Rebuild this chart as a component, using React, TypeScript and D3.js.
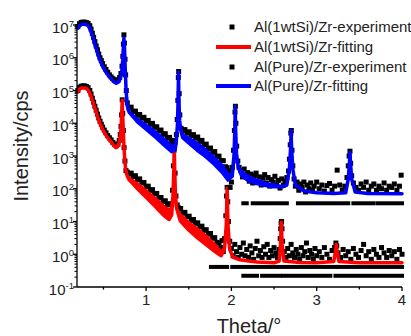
import React, { useEffect, useRef } from "react";
import * as d3 from "d3";

// fitted curves: [theta, lower envelope, upper envelope] (band where fringes blur)
const fitSi: [number, number, number][] = [
  [0.2, 9e4, 9e4], [0.22, 1.1e5, 1.1e5], [0.25, 1.2e5, 1.2e5], [0.28, 1.2e5, 1.2e5],
  [0.31, 1.1e5, 1.1e5], [0.33, 9.5e4, 9.5e4], [0.35, 7.2e4, 7.2e4], [0.37, 5e4, 5e4],
  [0.39, 3.4e4, 3.4e4], [0.41, 2.4e4, 2.4e4], [0.43, 1.6e4, 1.6e4], [0.45, 1.15e4, 1.15e4],
  [0.47, 8.5e3, 8.5e3], [0.5, 5.8e3, 5.8e3], [0.53, 4.3e3, 4.3e3], [0.56, 3.3e3, 3.3e3],
  [0.59, 2.7e3, 2.7e3], [0.62, 2.1e3, 2.1e3], [0.645, 1.8e3, 1.8e3], [0.665, 1.9e3, 1.9e3],
  [0.685, 2.6e3, 2.6e3], [0.7, 4.5e3, 4.5e3], [0.71, 1.1e4, 1.1e4], [0.72, 5e4, 5e4],
  [0.728, 1.2e4, 1.2e4], [0.737, 3e3, 3e3], [0.748, 9e2, 9e2], [0.76, 4e2, 4e2],
  [0.78, 2.4e2, 2.4e2], [0.8, 1.9e2, 2.1e2], [0.9, 1e2, 1.4e2], [1.0, 5.5e1, 8.5e1],
  [1.1, 3e1, 5.2e1], [1.2, 1.6e1, 3e1], [1.27, 1.15e1, 2.2e1], [1.3, 1.6e1, 2.5e1],
  [1.315, 6e1, 6e1], [1.325, 4e2, 4e2], [1.33, 2.5e3, 2.5e3], [1.335, 4e2, 4e2],
  [1.345, 6e1, 6e1], [1.36, 2.4e1, 2.4e1], [1.4, 1.05e1, 1.6e1], [1.5, 5.5, 9.2],
  [1.6, 3.2, 5.8], [1.7, 2, 3.6], [1.8, 1.25, 2], [1.88, 0.9, 1.15], [1.92, 1.5, 1.5],
  [1.94, 8, 8], [1.95, 1.05e2, 1.05e2], [1.96, 8, 8], [1.98, 1.4, 1.4], [2.02, 0.8, 0.8],
  [2.1, 0.68, 0.68], [2.2, 0.62, 0.62], [2.3, 0.58, 0.58], [2.5, 0.55, 0.55],
  [2.56, 0.62, 0.62], [2.575, 2, 2], [2.585, 9.5, 9.5], [2.595, 2, 2], [2.615, 0.62, 0.62],
  [2.8, 0.56, 0.56], [3.0, 0.55, 0.55], [3.2, 0.6, 0.6], [3.22, 1.2, 1.2],
  [3.23, 2, 2], [3.24, 1.2, 1.2], [3.26, 0.6, 0.6], [3.5, 0.55, 0.55], [4.0, 0.55, 0.55],
];

const fitPure: [number, number, number][] = [
  [0.2, 8e6, 8e6], [0.22, 9.5e6, 9.5e6], [0.25, 1.05e7, 1.05e7], [0.28, 1.05e7, 1.05e7],
  [0.31, 1e7, 1e7], [0.33, 9e6, 9e6], [0.35, 6.8e6, 6.8e6], [0.37, 4.6e6, 4.6e6],
  [0.39, 3.1e6, 3.1e6], [0.41, 2.1e6, 2.1e6], [0.43, 1.4e6, 1.4e6], [0.45, 9.8e5, 9.8e5],
  [0.47, 7.2e5, 7.2e5], [0.5, 4.9e5, 4.9e5], [0.53, 3.6e5, 3.6e5], [0.56, 2.8e5, 2.8e5],
  [0.59, 2.3e5, 2.3e5], [0.62, 1.85e5, 1.85e5], [0.65, 1.65e5, 1.65e5], [0.68, 1.85e5, 1.85e5],
  [0.7, 2.4e5, 2.4e5], [0.715, 3.8e5, 3.8e5], [0.725, 8e5, 8e5], [0.733, 2e6, 2e6],
  [0.74, 4e6, 4e6], [0.747, 2e6, 2e6], [0.755, 5e5, 5e5], [0.765, 1.1e5, 1.1e5],
  [0.78, 3.3e4, 3.3e4], [0.8, 2.2e4, 2.2e4], [0.9, 1.1e4, 1.3e4], [1.0, 6.6e3, 8.6e3],
  [1.1, 4e3, 5.6e3], [1.2, 2.3e3, 3.4e3], [1.3, 1.35e3, 2e3], [1.34, 1.5e3, 1.9e3],
  [1.355, 3e3, 3e3], [1.368, 1e4, 1e4], [1.375, 5e4, 5e4], [1.38, 3.6e5, 3.6e5],
  [1.385, 5e4, 5e4], [1.393, 1.2e4, 1.2e4], [1.41, 5.5e3, 5.5e3], [1.43, 3.6e3, 4.4e3],
  [1.5, 2.5e3, 3.5e3], [1.6, 1.5e3, 2.4e3], [1.7, 9.5e2, 1.5e3], [1.8, 5.6e2, 8.8e2],
  [1.9, 3e2, 4.8e2], [1.96, 1.85e2, 2.6e2], [2.01, 2.4e2, 2.8e2], [2.03, 1e3, 1e3],
  [2.04, 6e3, 6e3], [2.045, 3.2e4, 3.2e4], [2.05, 6e3, 6e3], [2.06, 1.2e3, 1.2e3],
  [2.08, 4.5e2, 4.5e2], [2.12, 2.5e2, 3.3e2], [2.2, 1.75e2, 2.3e2], [2.3, 1.45e2, 1.8e2],
  [2.4, 1.25e2, 1.45e2], [2.5, 1.15e2, 1.3e2], [2.6, 1.15e2, 1.15e2], [2.65, 1.3e2, 1.3e2],
  [2.68, 4e2, 4e2], [2.695, 2e3, 2e3], [2.7, 6e3, 6e3], [2.705, 2e3, 2e3],
  [2.72, 4e2, 4e2], [2.75, 1.3e2, 1.3e2], [2.85, 8.5e1, 8.5e1], [3.0, 7.5e1, 7.5e1],
  [3.2, 7.2e1, 7.2e1], [3.34, 7.5e1, 7.5e1], [3.37, 2e2, 2e2], [3.385, 7e2, 7e2],
  [3.39, 1.3e3, 1.3e3], [3.395, 7e2, 7e2], [3.41, 2e2, 2e2], [3.45, 8e1, 8e1],
  [3.6, 7.2e1, 7.2e1], [4.0, 7e1, 7e1],
];

// measured points: [theta, cps]
const expSi: [number, number][] = [
  [0.2, 1e5], [0.22, 1.25e5], [0.24, 1.35e5], [0.26, 1.38e5], [0.28, 1.38e5], [0.3, 1.32e5],
  [0.32, 1.22e5], [0.34, 1e5], [0.355, 7.8e4], [0.37, 5.8e4], [0.385, 4.4e4], [0.4, 3.3e4],
  [0.415, 2.5e4], [0.43, 1.9e4], [0.445, 1.45e4], [0.46, 1.15e4], [0.475, 9.3e3], [0.49, 7.6e3],
  [0.51, 6.2e3], [0.53, 5.1e3], [0.55, 4.2e3], [0.57, 3.6e3], [0.59, 3.1e3], [0.61, 2.6e3],
  [0.63, 2.3e3], [0.65, 2.1e3], [0.67, 2.3e3], [0.685, 3e3], [0.697, 4.5e3], [0.706, 8e3],
  [0.713, 1.8e4], [0.72, 5.2e4], [0.726, 2e4], [0.733, 6e3], [0.742, 1.8e3], [0.752, 7e2],
  [0.764, 3.6e2], [0.78, 3.2e2], [0.8, 2.8e2], [0.825, 3e2], [0.85, 2.35e2], [0.875, 2.5e2],
  [0.9, 1.9e2], [0.925, 2e2], [0.95, 1.5e2], [0.975, 1.55e2], [1.0, 1.15e2], [1.025, 1.2e2],
  [1.05, 8.9e1], [1.075, 9.4e1], [1.1, 7e1], [1.125, 7.2e1], [1.15, 5.3e1], [1.175, 5.4e1],
  [1.2, 4.1e1], [1.225, 4.3e1], [1.25, 3.2e1], [1.275, 3.5e1], [1.3, 3.4e1], [1.31, 9e1],
  [1.32, 5e2], [1.327, 1.5e3], [1.333, 2.5e3], [1.34, 3e2], [1.35, 6e1], [1.365, 3.2e1],
  [1.38, 2.6e1], [1.405, 2.5e1], [1.43, 1.8e1], [1.455, 1.9e1], [1.48, 1.4e1], [1.505, 1.45e1],
  [1.53, 1.08e1], [1.555, 1.15e1], [1.58, 8.8], [1.605, 9.1], [1.63, 6.8], [1.655, 7.2],
  [1.68, 5.4], [1.705, 5.6], [1.73, 4.1], [1.755, 4.3], [1.78, 3.1], [1.805, 3.2],
  [1.83, 2.3], [1.855, 2.2], [1.875, 1.6], [1.89, 2.6], [1.905, 1.2], [1.92, 3],
  [1.935, 15], [1.943, 60], [1.95, 110], [1.957, 40], [1.965, 10], [1.98, 2.5],
  [2.0, 1.5], [2.02, 0.9], [2.04, 2], [2.06, 1.2], [2.08, 0.8], [2.1, 1.6], [2.12, 1],
  [2.14, 2.2], [2.16, 0.9], [2.18, 1.4], [2.2, 0.8], [2.22, 1.8], [2.24, 1.1], [2.26, 0.7],
  [2.28, 1.5], [2.3, 2.5], [2.32, 0.9], [2.34, 1.3], [2.36, 0.8], [2.38, 1.7], [2.4, 1],
  [2.42, 2], [2.44, 0.8], [2.46, 1.3], [2.48, 0.9], [2.5, 1.6], [2.52, 1.1], [2.54, 0.8],
  [2.56, 1.4], [2.572, 3], [2.578, 6], [2.583, 9], [2.588, 10], [2.593, 6], [2.6, 2.5],
  [2.62, 1.2], [2.64, 0.8], [2.66, 1.5], [2.68, 0.9], [2.7, 2], [2.72, 1.1], [2.74, 0.8],
  [2.76, 1.4], [2.78, 1], [2.8, 0.7], [2.82, 1.6], [2.84, 0.9], [2.86, 1.2], [2.88, 2.2],
  [2.9, 0.8], [2.92, 1.3], [2.94, 1], [2.96, 0.7], [2.98, 1.5], [3.0, 0.9], [3.03, 1.2],
  [3.06, 0.8], [3.09, 1.6], [3.12, 1], [3.15, 0.7], [3.18, 1.3], [3.21, 1.6], [3.225, 2.2],
  [3.235, 1.8], [3.25, 1.1], [3.28, 0.8], [3.31, 1.4], [3.34, 0.9], [3.37, 1.2], [3.4, 0.7],
  [3.43, 1.5], [3.46, 1], [3.49, 0.8], [3.52, 1.3], [3.55, 2], [3.58, 0.9], [3.61, 1.2],
  [3.64, 0.7], [3.67, 1.4], [3.7, 1], [3.73, 0.8], [3.76, 1.6], [3.79, 1.1], [3.82, 0.8],
  [3.85, 1.3], [3.88, 0.9], [3.91, 1.2], [3.94, 0.7], [3.97, 1.4], [4.0, 1],
];

const expPure: [number, number][] = [
  [0.2, 9e6], [0.22, 1.1e7], [0.24, 1.2e7], [0.26, 1.22e7], [0.28, 1.22e7], [0.3, 1.18e7],
  [0.32, 1.12e7], [0.34, 9.5e6], [0.355, 7.5e6], [0.37, 5.6e6], [0.385, 4.2e6], [0.4, 3.1e6],
  [0.415, 2.3e6], [0.43, 1.75e6], [0.445, 1.3e6], [0.46, 1e6], [0.475, 8.2e5], [0.49, 6.6e5],
  [0.51, 5.3e5], [0.53, 4.4e5], [0.55, 3.6e5], [0.57, 3e5], [0.59, 2.6e5], [0.61, 2.3e5],
  [0.63, 2.1e5], [0.65, 2e5], [0.67, 2.1e5], [0.69, 2.5e5], [0.705, 3.3e5], [0.718, 5.5e5],
  [0.727, 1.1e6], [0.734, 2.6e6], [0.74, 5e6], [0.746, 2.8e6], [0.753, 9e5], [0.76, 3e5],
  [0.768, 1e5], [0.78, 4.2e4], [0.8, 2.9e4], [0.825, 3.1e4], [0.85, 2.3e4], [0.875, 2.35e4],
  [0.9, 1.75e4], [0.925, 1.85e4], [0.95, 1.43e4], [0.975, 1.52e4], [1.0, 1.16e4], [1.025, 1.22e4],
  [1.05, 9.3e3], [1.075, 9.9e3], [1.1, 7.6e3], [1.125, 7.8e3], [1.15, 5.9e3], [1.175, 6.2e3],
  [1.2, 4.6e3], [1.225, 4.8e3], [1.25, 3.5e3], [1.275, 3.7e3], [1.3, 2.7e3], [1.32, 3e3],
  [1.34, 2.6e3], [1.355, 4.5e3], [1.365, 1.3e4], [1.372, 5e4], [1.378, 2.5e5], [1.382, 3.8e5],
  [1.388, 8e4], [1.395, 1.8e4], [1.41, 7e3], [1.43, 5.9e3], [1.455, 6.4e3], [1.48, 5e3],
  [1.505, 5.5e3], [1.53, 4.2e3], [1.555, 4.5e3], [1.58, 3.5e3], [1.605, 3.8e3], [1.63, 2.8e3],
  [1.655, 3e3], [1.68, 2.2e3], [1.705, 2.3e3], [1.73, 1.7e3], [1.755, 1.75e3], [1.78, 1.3e3],
  [1.805, 1.36e3], [1.83, 9.7e2], [1.855, 9.9e2], [1.88, 7.3e2], [1.905, 7.2e2], [1.93, 4.7e2],
  [1.95, 4.4e2], [1.97, 3.5e2], [1.985, 1.1e2], [2.0, 1.6e2], [2.012, 4.5e2], [2.025, 1.5e3],
  [2.035, 6e3], [2.042, 2.2e4], [2.047, 3.3e4], [2.053, 1e4], [2.062, 2e3], [2.075, 7e2],
  [2.09, 4.5e2], [2.11, 3.6e2], [2.13, 2.3e2], [2.15, 4e2], [2.17, 2.6e2], [2.19, 3.1e2],
  [2.21, 1.7e2], [2.23, 2.8e2], [2.25, 1.5e2], [2.27, 2.5e2], [2.29, 3e2], [2.31, 1.6e2],
  [2.33, 2.3e2], [2.35, 1.3e2], [2.37, 2.1e2], [2.39, 2.7e2], [2.41, 1.5e2], [2.43, 2.2e2],
  [2.45, 1.2e2], [2.47, 1.9e2], [2.49, 1.6e2], [2.51, 2.4e2], [2.53, 1.3e2], [2.55, 1.8e2],
  [2.57, 1.05e2], [2.59, 2e2], [2.61, 1.3e2], [2.63, 1.7e2], [2.65, 2.2e2], [2.67, 3.5e2],
  [2.68, 8e2], [2.69, 2.2e3], [2.697, 5e3], [2.702, 6e3], [2.71, 1.5e3], [2.72, 5e2],
  [2.735, 2e2], [2.75, 1.2e2], [2.77, 1.6e2], [2.79, 9e1], [2.81, 1.4e2], [2.83, 1.1e2],
  [2.85, 1.6e2], [2.87, 8e1], [2.89, 1.3e2], [2.91, 1e2], [2.93, 1.5e2], [2.95, 9e1],
  [2.97, 1.2e2], [3.0, 1.6e2], [3.03, 1e2], [3.06, 1.3e2], [3.09, 8.5e1], [3.12, 1.25e2],
  [3.15, 1.45e2], [3.18, 9e1], [3.21, 1.2e2], [3.24, 3.7e2], [3.27, 1.3e2], [3.3, 9e1],
  [3.33, 1.2e2], [3.355, 2.2e2], [3.37, 5e2], [3.38, 1e3], [3.39, 1.4e3], [3.398, 6e2],
  [3.41, 2.5e2], [3.43, 1.5e2], [3.46, 1.1e2], [3.49, 9e1], [3.52, 1.4e2], [3.55, 1.1e2],
  [3.58, 1.6e2], [3.61, 9e1], [3.64, 1.2e2], [3.67, 1.4e2], [3.7, 9e1], [3.73, 1.2e2],
  [3.76, 1e2], [3.79, 1.5e2], [3.82, 9e1], [3.85, 1.2e2], [3.88, 1.1e2], [3.91, 1.4e2],
  [3.94, 9e1], [3.97, 1.2e2], [3.99, 2.6e2],
];

// runs of consecutive points sitting on the counting floor: [from, to, cps]
const floorSi: [number, number, number][] = [
  [1.76, 1.95, 0.41], [2.01, 2.57, 0.41], [2.61, 3.23, 0.41], [3.25, 4.0, 0.41],
  [2.14, 2.3, 0.22], [2.36, 2.57, 0.22], [2.61, 3.16, 0.22], [3.22, 4.0, 0.22],
];
const floorPure: [number, number, number][] = [
  [2.14, 2.18, 36], [2.25, 2.65, 36], [2.78, 3.37, 36], [3.43, 3.66, 36], [3.71, 4.0, 36],
];

const xTicks = [1, 2, 3, 4];
const xMinor = [0.5, 1.5, 2.5, 3.5];
const yExps = [-1, 0, 1, 2, 3, 4, 5, 6, 7];
const legendLabels = [
  "Al(1wtSi)/Zr-experiment",
  "Al(1wtSi)/Zr-fitting",
  "Al(Pure)/Zr-experiment",
  "Al(Pure)/Zr-fitting",
];

const W = 411;
const H = 336;
const FONT = "'Liberation Sans', Arial, sans-serif";
const SQ = 5;

const App: React.FC = () => {
  const svgRef = useRef<SVGSVGElement | null>(null);

  useEffect(() => {
    const svg = d3.select(svgRef.current);
    svg.selectAll("*").remove();

    const x = d3.scaleLinear().domain([0.19, 4]).range([77, 402]);
    const y = d3.scaleLog().domain([0.1, 1e7]).range([287, 25]);

    const band = d3
      .area<[number, number, number]>()
      .x((d) => x(d[0]))
      .y0((d) => y(d[1]))
      .y1((d) => y(d[2]));

    const drawExp = (data: [number, number][], floor: [number, number, number][]) => {
      const g = svg.append("g").attr("fill", "#000");
      g.selectAll("rect.pt")
        .data(data)
        .enter()
        .append("rect")
        .attr("class", "pt")
        .attr("x", (d) => x(d[0]) - SQ / 2)
        .attr("y", (d) => y(d[1]) - SQ / 2)
        .attr("width", SQ)
        .attr("height", SQ);
      g.selectAll("rect.run")
        .data(floor)
        .enter()
        .append("rect")
        .attr("class", "run")
        .attr("x", (d) => x(d[0]) - 2)
        .attr("y", (d) => y(d[2]) - 2)
        .attr("width", (d) => x(d[1]) - x(d[0]) + 4)
        .attr("height", 4);
    };

    const drawFit = (data: [number, number, number][], color: string) => {
      svg
        .append("path")
        .datum(data)
        .attr("d", band)
        .attr("fill", color)
        .attr("stroke", color)
        .attr("stroke-width", 3.5)
        .attr("stroke-linejoin", "round");
    };

    drawExp(expSi, floorSi);
    drawFit(fitSi, "#ff0000");
    drawExp(expPure, floorPure);
    drawFit(fitPure, "#0000ff");

    // axes
    const axis = svg.append("g").attr("stroke", "#000").attr("stroke-width", 1.3);
    axis.append("line").attr("x1", 77).attr("x2", 77).attr("y1", y(1e7)).attr("y2", y(0.1));
    axis.append("line").attr("x1", 77).attr("x2", x(4)).attr("y1", 287).attr("y2", 287);

    xTicks.forEach((t) => {
      axis.append("line").attr("x1", x(t)).attr("x2", x(t)).attr("y1", 287).attr("y2", 291);
    });
    xMinor.forEach((t) => {
      axis.append("line").attr("x1", x(t)).attr("x2", x(t)).attr("y1", 287).attr("y2", 289.5);
    });
    yExps.forEach((e) => {
      axis.append("line").attr("x1", 73).attr("x2", 77).attr("y1", y(10 ** e)).attr("y2", y(10 ** e));
      if (e < 7) {
        for (let m = 2; m <= 9; m++) {
          const v = m * 10 ** e;
          axis
            .append("line")
            .attr("x1", 74.5)
            .attr("x2", 77)
            .attr("y1", y(v))
            .attr("y2", y(v))
            .attr("stroke-width", 1);
        }
      }
    });

    const labels = svg.append("g").attr("font-family", FONT).attr("fill", "#222");
    xTicks.forEach((t) => {
      labels
        .append("text")
        .attr("x", x(t))
        .attr("y", 305)
        .attr("text-anchor", "middle")
        .attr("font-size", 15)
        .text(t);
    });
    yExps.forEach((e) => {
      const txt = labels
        .append("text")
        .attr("x", 74)
        .attr("y", y(10 ** e) + 7.5)
        .attr("text-anchor", "end")
        .attr("font-size", 15);
      txt.append("tspan").text("10");
      txt.append("tspan").attr("dy", -6).attr("font-size", 9.5).text(e);
    });

    labels
      .append("text")
      .attr("transform", "translate(28,146) rotate(-90)")
      .attr("text-anchor", "middle")
      .attr("font-size", 20)
      .text("Intensity/cps");
    labels
      .append("text")
      .attr("x", 249)
      .attr("y", 333)
      .attr("text-anchor", "middle")
      .attr("font-size", 20)
      .text("Theta/\u00b0");

    // legend
    const legendY = [27, 47, 67, 86];
    const lg = svg.append("g");
    legendLabels.forEach((name, i) => {
      const ly = legendY[i];
      if (i % 2 === 0) {
        lg.append("rect").attr("x", 229.5).attr("y", ly - 2.5).attr("width", 5).attr("height", 5).attr("fill", "#000");
      } else {
        lg.append("line")
          .attr("x1", 216)
          .attr("x2", 251)
          .attr("y1", ly)
          .attr("y2", ly)
          .attr("stroke", i === 1 ? "#ff0000" : "#0000ff")
          .attr("stroke-width", 4);
      }
      lg.append("text")
        .attr("x", 254)
        .attr("y", ly + 5.4)
        .attr("font-family", FONT)
        .attr("font-size", 15)
        .attr("fill", "#222")
        .text(name);
    });
  }, []);

  return (
    <svg
      ref={svgRef}
      width={W}
      height={H}
      style={{ position: "absolute", left: 0, top: 0, background: "#fff" }}
    ></svg>
  );
};

export default App;
